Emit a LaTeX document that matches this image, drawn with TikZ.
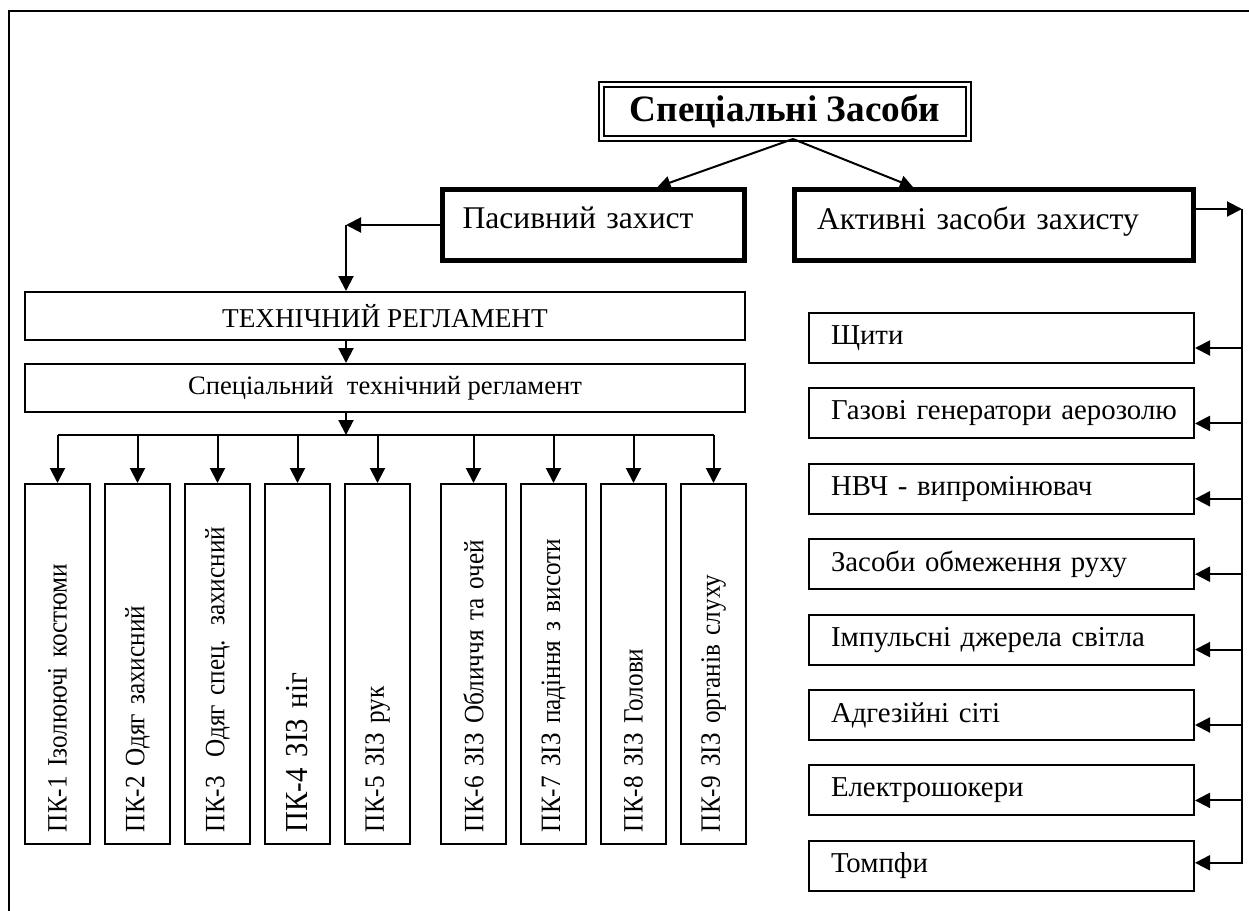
\documentclass[tikz,border=0pt]{standalone}
\usepackage{fontspec}
\setmainfont{Liberation Serif}
\newfontfamily\condfont[FakeStretch=0.9]{Liberation Serif}
\usepackage{tikz}
\usetikzlibrary{positioning}
\usetikzlibrary{arrows.meta}

\begin{document}
\begin{tikzpicture}[x=0.5pt,y=-0.5pt,
      box style/.style={rectangle,draw=black,line width=1pt,inner sep=0pt,align=center},
      title style/.style={rectangle,draw=black,double,line width=1pt,double distance=1.5pt,
        minimum width=183.5pt,minimum height=27pt,font=\bfseries\fontsize{18.6}{21}\selectfont},
      thick style/.style={rectangle,draw=black,line width=2.5pt,minimum height=35.5pt,
        inner ysep=0pt,text depth=7pt,align=left,font=\fontsize{15.8}{18}\selectfont},
      side style/.style={rectangle,draw=black,line width=1pt,minimum height=25pt,
        text width=170.5pt,inner xsep=11pt,inner ysep=0pt,align=left,
        font=\fontsize{14.4}{16}\selectfont},
      vert style/.style={rectangle,draw=black,line width=1pt,rotate=90,minimum height=32.5pt,
        text width=168pt,inner xsep=6pt,inner ysep=0pt,align=left,
        font=\condfont\fontsize{14}{16}\selectfont},
      arr/.style={line width=1pt,-{Triangle[length=7.5pt,width=7.5pt]}},
      arr small/.style={line width=1pt,-{Triangle[length=6.5pt,width=6.5pt]}}
      ]
      \useasboundingbox (0,0) rectangle (1249,911);
      % frame
      \draw[line width=1pt] (9,911) -- (9,11) -- (1249,11);

      \node[title style] (title) at (785,111) {Спеціальні Засоби};
      \node[thick style,text width=131pt,inner xsep=10pt] (pas) at (593.5,225) {Пасивний захист};
      \node[thick style,text width=177pt,inner xsep=11.25pt,right=22.5pt of pas] (act) {Активні засоби захисту};
      \draw[arr small] ([xshift=4pt]title.south) -- ([xshift=32pt]pas.north);
      \draw[arr small] ([xshift=4pt]title.south) -- ([xshift=-40.5pt]act.north);

      % passive branch
      \node[box style,minimum width=360pt,minimum height=24pt,
        font=\fontsize{13.6}{15}\selectfont] (treg) at (385,316) {ТЕХНІЧНИЙ РЕГЛАМЕНТ};
      \node[box style,minimum width=360pt,minimum height=24pt,below=11pt of treg,
        font=\fontsize{13.3}{15}\selectfont] (sreg) {Спеціальний\ \ технічний регламент};
      \coordinate (pasturn) at (346,225);
      \coordinate (bus) at (346,435);
      \draw[arr] (pas.west) -- (pasturn);
      \draw[arr] (pasturn) -- (pasturn |- treg.north);
      \draw[arr] (treg.south -| pasturn) -- (sreg.north -| pasturn);
      \draw[arr] (sreg.south -| pasturn) -- (bus);

      \node[vert style] (pk1) at (57.5,664) {ПК-1 Ізолюючі костюми};
      \node[vert style] (pk2) at (137.5,664) {ПК-2 Одяг захисний};
      \node[vert style] (pk3) at (217.5,664) {ПК-3\ \ Одяг спец. захисний};
      \node[vert style,font=\condfont\fontsize{16}{18}\selectfont] (pk4) at (297.5,664) {ПК-4 ЗІЗ ніг};
      \node[vert style] (pk5) at (377.5,664) {ПК-5 ЗІЗ рук};
      \node[vert style] (pk6) at (473.5,664) {ПК-6 ЗІЗ Обличчя та очей};
      \node[vert style] (pk7) at (553.5,664) {ПК-7 ЗІЗ падіння з висоти};
      \node[vert style] (pk8) at (633.5,664) {ПК-8 ЗІЗ Голови};
      \node[vert style] (pk9) at (713.5,664) {ПК-9 ЗІЗ органів слуху};

      \draw[line width=1pt] (bus -| pk1) -- (bus -| pk9);
      \draw[arr] (bus -| pk1) -- (pk1.east);
      \draw[arr] (bus -| pk2) -- (pk2.east);
      \draw[arr] (bus -| pk3) -- (pk3.east);
      \draw[arr] (bus -| pk4) -- (pk4.east);
      \draw[arr] (bus -| pk5) -- (pk5.east);
      \draw[arr] (bus -| pk6) -- (pk6.east);
      \draw[arr] (bus -| pk7) -- (pk7.east);
      \draw[arr] (bus -| pk8) -- (pk8.east);
      \draw[arr] (bus -| pk9) -- (pk9.east);

      % active branch
      \node[side style] (r1) at (1001.5,338) {Щити};
      \node[side style,below=11.7pt of r1] (r2) {\mbox{Газові генератори аерозолю}};
      \node[side style,below=11.7pt of r2] (r3) {НВЧ - випромінювач};
      \node[side style,below=11.7pt of r3] (r4) {Засоби обмеження руху};
      \node[side style,below=11.7pt of r4] (r5) {Імпульсні джерела світла};
      \node[side style,below=11.7pt of r5] (r6) {Адгезійні сіті};
      \node[side style,below=11.7pt of r6] (r7) {Електрошокери};
      \node[side style,below=11.7pt of r7] (r8) {Томпфи};

      \coordinate (rail) at (1242,209);
      \coordinate[below=5pt of r1.east] (r1in);
      \coordinate[below=5pt of r2.east] (r2in);
      \coordinate[below=5pt of r3.east] (r3in);
      \coordinate[below=5pt of r4.east] (r4in);
      \coordinate[below=5pt of r5.east] (r5in);
      \coordinate[below=5pt of r6.east] (r6in);
      \coordinate[below=5pt of r7.east] (r7in);
      \coordinate[above=1.5pt of r8.east] (r8in);
      \draw[arr] ([yshift=8pt]act.east) -- (rail);
      \draw[arr] (rail) |- (r8in);
      \draw[arr] (rail |- r1in) -- (r1in);
      \draw[arr] (rail |- r2in) -- (r2in);
      \draw[arr] (rail |- r3in) -- (r3in);
      \draw[arr] (rail |- r4in) -- (r4in);
      \draw[arr] (rail |- r5in) -- (r5in);
      \draw[arr] (rail |- r6in) -- (r6in);
      \draw[arr] (rail |- r7in) -- (r7in);
    \end{tikzpicture}
\end{document}
